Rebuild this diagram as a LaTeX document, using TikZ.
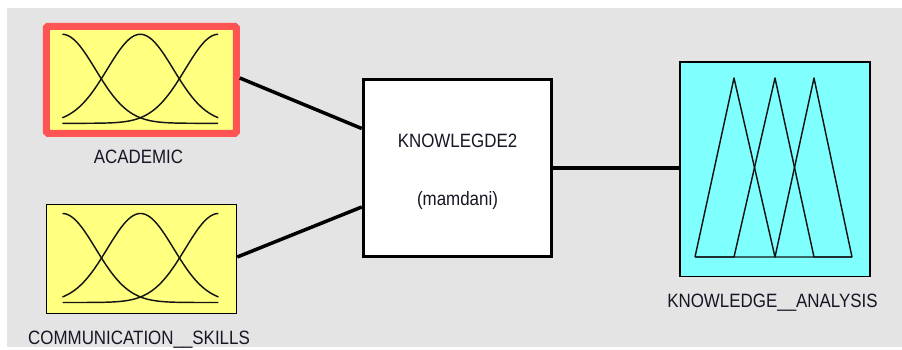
\documentclass[tikz,border=0pt]{standalone}
\usepackage{fontspec}
\setmainfont{Liberation Sans}

\definecolor{panelgray}{RGB}{228,228,228}
\definecolor{mfyellow}{RGB}{255,255,128}
\definecolor{mfcyan}{RGB}{128,255,255}
\definecolor{selred}{RGB}{255,84,84}
\definecolor{labelink}{RGB}{22,22,36}
\definecolor{mfink}{RGB}{20,20,20}

\newcommand\fislabel[1]{\scalebox{0.93}[1.06]{#1}}

\tikzset{
  mfline/.style={draw=mfink, line width=1.45pt, line join=round},
  % three Gaussian membership functions over the box width
  gaussmfs/.pic={
    \foreach \c in {0,0.5,1}{
      \draw[mfline] plot[domain=0:1,samples=90,smooth]
        ({-79+156*\x},{43.5-89*exp(-((\x-\c)^2)/0.0901)});
    }
  },
  % three triangular membership functions
  trimfs/.pic={
    \draw[mfline] (-80,87.8) -- (-41,-91.2) -- (0,87.8) -- (77,87.8);
    \draw[mfline] (-80,87.8) -- (-41,87.8) -- (0,-91.2) -- (39,87.8) -- (77,87.8);
    \draw[mfline] (-80,87.8) -- (0,87.8) -- (39,-91.2) -- (77,87.8);
  },
  inbox/.style={draw=black, fill=mfyellow, line width=1.5pt, inner sep=0pt,
    minimum width=190pt, minimum height=109pt},
  selbox/.style={inbox, draw=selred, line width=7pt, rounded corners=1.5pt,
    minimum height=107pt},
  fisbox/.style={draw=black, fill=white, line width=3pt, inner sep=0pt,
    minimum width=188.7pt, minimum height=177.4pt},
  outbox/.style={draw=black, fill=mfcyan, line width=1.8pt, inner sep=0pt,
    minimum width=189.6pt, minimum height=214.7pt},
  varlabel/.style={anchor=base, inner sep=0pt, text=labelink,
    font=\fontsize{18.2}{20}\selectfont},
  link/.style={draw=black, line width=3.5pt},
}

\begin{document}
\begin{tikzpicture}[x=1pt,y=-1pt]
  \useasboundingbox (0,0) rectangle (902,349);
  \fill[panelgray] (7.3,8) rectangle (902,347);

  % input variables
  \node[selbox] (acad) at (141.3,79.8) {};
  \pic at (141.3,79.8) {gaussmfs};
  \node[inbox] (comm) at (141.5,259) {};
  \pic at (141.5,259) {gaussmfs};

  % inference system
  \node[fisbox] (kb) at (457.6,168) {};

  % output variable
  \node[outbox] (out) at (775,169.2) {};
  \pic at (775,169.2) {trimfs};

  % labels
  \node[varlabel] (acadlbl) at (138.5,163.8) {\fislabel{ACADEMIC}};
  \node[varlabel] (commlbl) at (139,344.6) {\fislabel{COMMUNICATION\_\_SKILLS}};
  \node[varlabel] (kbname) at (457.5,147.6) {\fislabel{KNOWLEGDE2}};
  \node[varlabel] (kbtype) at (457.5,205) {\fislabel{(mamdani)}};
  \node[varlabel] (outlbl) at (772.5,307.2) {\fislabel{KNOWLEDGE\_\_ANALYSIS}};

  % connectors
  \draw[link] ([yshift=1.8pt]acad.east) -- ([yshift=39.5pt]kb.west);
  \draw[link] ([yshift=2pt]comm.east) -- ([yshift=-39pt]kb.west);
  \draw[link] (kb.east) -- ([yshift=1.2pt]out.west);
\end{tikzpicture}
\end{document}
